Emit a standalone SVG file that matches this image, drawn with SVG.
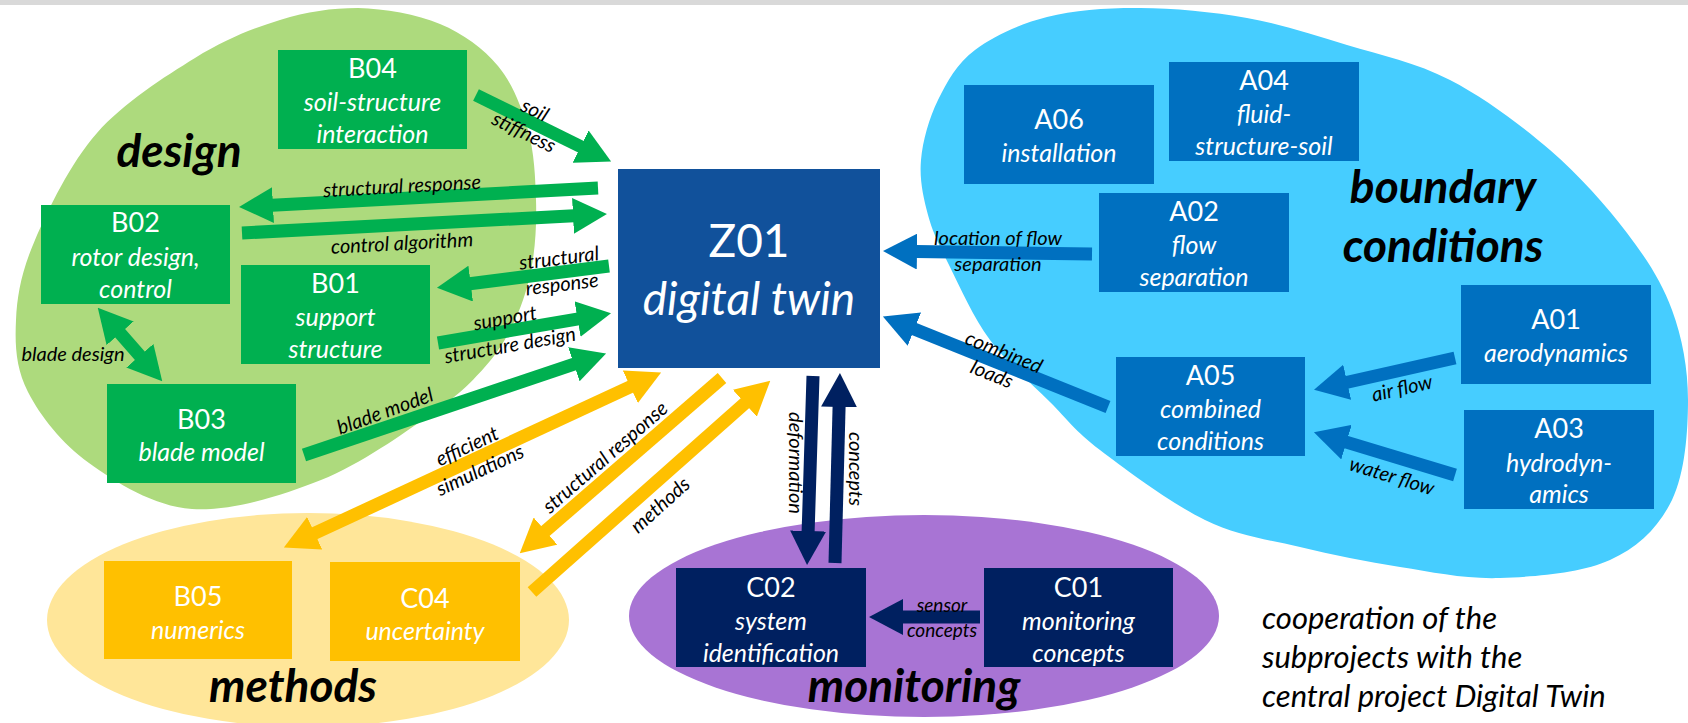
<svg xmlns="http://www.w3.org/2000/svg" width="1688" height="723" viewBox="0 0 1688 723">
<style>
text { font-family: Lato, "Open Sans", "Liberation Sans", sans-serif; }
.bt { fill: #ffffff; text-anchor: middle; font-size: 27px; }
.bs { fill: #ffffff; text-anchor: middle; font-size: 25px; font-style: italic; }
.lbl { fill: #000000; text-anchor: middle; font-size: 20px; font-style: italic; }
.grp { fill: #000000; text-anchor: middle; font-size: 46px; font-style: italic; font-weight: bold; }
.cap { fill: #000000; font-size: 31px; font-style: italic; }
.cg { stroke: #00B050; stroke-width: 13; fill: none; }
.cy { stroke: #FFC000; stroke-width: 13; fill: none; }
.cn { stroke: #002060; stroke-width: 13; fill: none; }
.cb { stroke: #0070C0; stroke-width: 13; fill: none; }
.ng { fill: #00B050; }
.ny { fill: #FFC000; }
.nn { fill: #002060; }
.nb { fill: #0070C0; }
</style>
<defs>
<marker id="hg" markerUnits="userSpaceOnUse" viewBox="0 -18 34 36" markerWidth="34" markerHeight="36" refX="1" refY="0" orient="auto-start-reverse"><path d="M0,-18 L34,0 L0,18 Z" fill="#00B050"/></marker>
<marker id="hy" markerUnits="userSpaceOnUse" viewBox="0 -18 34 36" markerWidth="34" markerHeight="36" refX="1" refY="0" orient="auto-start-reverse"><path d="M0,-18 L34,0 L0,18 Z" fill="#FFC000"/></marker>
<marker id="hn" markerUnits="userSpaceOnUse" viewBox="0 -18 34 36" markerWidth="34" markerHeight="36" refX="1" refY="0" orient="auto-start-reverse"><path d="M0,-18 L34,0 L0,18 Z" fill="#002060"/></marker>
<marker id="hb" markerUnits="userSpaceOnUse" viewBox="0 -18 34 36" markerWidth="34" markerHeight="36" refX="1" refY="0" orient="auto-start-reverse"><path d="M0,-18 L34,0 L0,18 Z" fill="#0070C0"/></marker>
</defs>
<rect x="0" y="0" width="1688" height="723" fill="#ffffff"/>
<rect x="0" y="0" width="1688" height="5" fill="#D9D9D9"/>

<g id="regions">
<path id="region-design" fill="#ADDA7D" d="M358,8 C384.7,8.7 416.7,14.3 440,24 C463.3,33.7 483.3,48.3 498,66 C512.7,83.7 521.7,107.7 528,130 C534.3,152.3 535.3,177.5 536,200 C536.7,222.5 535.5,245 532,265 C528.5,285 523,302.8 515,320 C507,337.2 498.2,352.2 484,368 C469.8,383.8 457.2,396.3 430,415 C402.8,433.7 360.7,464.3 321,480 C281.3,495.7 230.7,511.8 192,509 C153.3,506.2 116.3,482.5 89,463 C61.7,443.5 40.2,415.8 28,392 C15.8,368.2 14.8,345.3 16,320 C17.2,294.7 21.5,271.2 35,240 C48.5,208.8 70.3,163.3 97,133 C123.7,102.7 164.5,76.8 195,58 C225.5,39.2 252.8,28.3 280,20 C307.2,11.7 331.3,8 358,8 Z"/>
<path id="region-boundary" fill="#46CDFF" d="M1140,8 C1173.3,8.2 1212.5,11.8 1247,18 C1281.5,24.2 1313.2,34.7 1347,45 C1380.8,55.3 1416.2,62.5 1450,80 C1483.8,97.5 1520.5,124.5 1550,150 C1579.5,175.5 1606.7,206.3 1627,233 C1647.3,259.7 1661.8,282.2 1672,310 C1682.2,337.8 1688,368.3 1688,400 C1688,431.7 1685,473.3 1672,500 C1659,526.7 1638.7,547 1610,560 C1581.3,573 1535,576.8 1500,578 C1465,579.2 1433.3,572.2 1400,567 C1366.7,561.8 1332.5,554.8 1300,547 C1267.5,539.2 1238.3,536.2 1205,520 C1171.7,503.8 1125.8,469.7 1100,450 C1074.2,430.3 1068.3,420.3 1050,402 C1031.7,383.7 1006.7,362.5 990,340 C973.3,317.5 960.3,287.8 950,267 C939.7,246.2 932.8,232.8 928,215 C923.2,197.2 919.3,179.2 921,160 C922.7,140.8 929,118.3 938,100 C947,81.7 956.8,63.8 975,50 C993.2,36.2 1019.5,24 1047,17 C1074.5,10 1106.7,7.8 1140,8 Z"/>
<ellipse id="region-methods" cx="308" cy="620" rx="261" ry="107" fill="#FFE699"/>
<ellipse id="region-monitoring" cx="924" cy="616" rx="295" ry="101" fill="#A874D4"/>
<text class="grp" x="179" y="167">design</text>
<text class="grp" x="1443" y="203">boundary</text>
<text class="grp" x="1443" y="262">conditions</text>
<text class="grp" x="293" y="702">methods</text>
<text class="grp" x="914" y="702">monitoring</text>
</g>

<g id="connectors">
<line class="cg" x1="476" y1="95" x2="581.5" y2="147" marker-end="url(#hg)"/>
<line class="cg" x1="598" y1="188" x2="272" y2="205.2" marker-end="url(#hg)"/>
<line class="cg" x1="242" y1="233" x2="574" y2="215.8" marker-end="url(#hg)"/>
<line class="cg" x1="609" y1="266" x2="469.7" y2="283.7" marker-end="url(#hg)"/>
<line class="cg" x1="438" y1="343" x2="578.5" y2="318.8" marker-end="url(#hg)"/>
<line class="cg" x1="304" y1="455" x2="574.8" y2="363.9" marker-end="url(#hg)"/>
<line class="cg" x1="119.5" y1="332.5" x2="140.5" y2="356.5" marker-start="url(#hg)" marker-end="url(#hg)"/>
<line class="cy" x1="313.8" y1="533.7" x2="631.2" y2="386.3" marker-start="url(#hy)" marker-end="url(#hy)"/>
<line class="cy" x1="722" y1="378" x2="544.7" y2="531.7" marker-end="url(#hy)"/>
<line class="cy" x1="532" y1="592" x2="745.6" y2="402.6" marker-end="url(#hy)"/>
<line class="cn" x1="813" y1="376" x2="808.1" y2="532" marker-end="url(#hn)"/>
<line class="cn" x1="835" y1="563" x2="839.1" y2="406" marker-end="url(#hn)"/>
<line class="cn" x1="980" y1="617" x2="902" y2="617" marker-end="url(#hn)"/>
<line class="cb" x1="1092" y1="254" x2="916" y2="251.5" marker-end="url(#hb)"/>
<line class="cb" x1="1108" y1="407" x2="913.5" y2="328.7" marker-end="url(#hb)"/>
<line class="cb" x1="1455" y1="358" x2="1346.2" y2="382.5" marker-end="url(#hb)"/>
<line class="cb" x1="1455" y1="475" x2="1345.5" y2="441.9" marker-end="url(#hb)"/>
<g id="connector-labels">
<text class="lbl" transform="translate(535,110) rotate(26)" y="7">soil</text>
<text class="lbl" transform="translate(524,132) rotate(26)" y="7">stiffness</text>
<text class="lbl" transform="translate(402,186) rotate(-3)" y="7">structural response</text>
<text class="lbl" transform="translate(402,243) rotate(-3)" y="7">control algorithm</text>
<text class="lbl" transform="translate(559,258) rotate(-7)" y="7">structural</text>
<text class="lbl" transform="translate(562,284) rotate(-7)" y="7">response</text>
<text class="lbl" transform="translate(505,318) rotate(-10)" y="7">support</text>
<text class="lbl" transform="translate(510,345) rotate(-10)" y="7">structure design</text>
<text class="lbl" transform="translate(385,411) rotate(-20)" y="7">blade model</text>
<text class="lbl" transform="translate(73,354)" y="7">blade design</text>
<text class="lbl" transform="translate(467,446) rotate(-25)" y="7">efficient</text>
<text class="lbl" transform="translate(480,470) rotate(-25)" y="7">simulations</text>
<text class="lbl" transform="translate(605,457) rotate(-41)" y="7">structural response</text>
<text class="lbl" transform="translate(660,505) rotate(-42)" y="7">methods</text>
<text class="lbl" transform="translate(796,463) rotate(90)" y="7">deformation</text>
<text class="lbl" transform="translate(856,469) rotate(90)" y="7">concepts</text>
<text class="lbl" transform="translate(998,238)" y="7">location of flow</text>
<text class="lbl" transform="translate(998,264)" y="7">separation</text>
<text class="lbl" transform="translate(1004,352) rotate(22)" y="7">combined</text>
<text class="lbl" transform="translate(992,374) rotate(22)" y="7">loads</text>
<text class="lbl" transform="translate(1402,388) rotate(-13)" y="7">air flow</text>
<text class="lbl" transform="translate(1392,476) rotate(17)" y="7">water flow</text>
<text class="lbl" style="font-size:19px" transform="translate(942,605)" y="7">sensor</text>
<text class="lbl" style="font-size:19px" transform="translate(942,630)" y="7">concepts</text>
</g>
</g>

<g id="Z01">
<rect x="618" y="169" width="262" height="199" fill="#11519B"/>
<text class="bt" x="749" y="257" style="font-size:46px">Z01</text>
<text class="bs" x="749" y="315" style="font-size:46px">digital twin</text>
</g>
<g id="B04">
<rect class="ng" x="278" y="50" width="189" height="99"/>
<text class="bt" x="372.5" y="78">B04</text>
<text class="bs" x="372.5" y="111">soil-structure</text>
<text class="bs" x="372.5" y="143">interaction</text>
</g>
<g id="B02">
<rect class="ng" x="41" y="205" width="189" height="99"/>
<text class="bt" x="135.5" y="232">B02</text>
<text class="bs" x="135.5" y="266">rotor design,</text>
<text class="bs" x="135.5" y="298">control</text>
</g>
<g id="B01">
<rect class="ng" x="241" y="265" width="189" height="99"/>
<text class="bt" x="335.5" y="293">B01</text>
<text class="bs" x="335.5" y="326">support</text>
<text class="bs" x="335.5" y="358">structure</text>
</g>
<g id="B03">
<rect class="ng" x="107" y="384" width="189" height="99"/>
<text class="bt" x="201.5" y="429">B03</text>
<text class="bs" x="201.5" y="461">blade model</text>
</g>
<g id="B05">
<rect class="ny" x="104" y="561" width="188" height="98"/>
<text class="bt" x="198" y="606">B05</text>
<text class="bs" x="198" y="639">numerics</text>
</g>
<g id="C04">
<rect class="ny" x="330" y="562" width="190" height="99"/>
<text class="bt" x="425" y="608">C04</text>
<text class="bs" x="425" y="640">uncertainty</text>
</g>
<g id="C02">
<rect class="nn" x="676" y="568" width="190" height="99"/>
<text class="bt" x="771" y="597">C02</text>
<text class="bs" x="771" y="630">system</text>
<text class="bs" x="771" y="662">identification</text>
</g>
<g id="C01">
<rect class="nn" x="984" y="568" width="189" height="99"/>
<text class="bt" x="1078.5" y="597">C01</text>
<text class="bs" x="1078.5" y="630">monitoring</text>
<text class="bs" x="1078.5" y="662">concepts</text>
</g>
<g id="A06">
<rect class="nb" x="964" y="85" width="190" height="99"/>
<text class="bt" x="1059" y="129">A06</text>
<text class="bs" x="1059" y="162">installation</text>
</g>
<g id="A04">
<rect class="nb" x="1169" y="62" width="190" height="99"/>
<text class="bt" x="1264" y="90">A04</text>
<text class="bs" x="1264" y="123">fluid-</text>
<text class="bs" x="1264" y="155">structure-soil</text>
</g>
<g id="A02">
<rect class="nb" x="1099" y="193" width="190" height="99"/>
<text class="bt" x="1194" y="221">A02</text>
<text class="bs" x="1194" y="254">flow</text>
<text class="bs" x="1194" y="286">separation</text>
</g>
<g id="A01">
<rect class="nb" x="1461" y="285" width="190" height="99"/>
<text class="bt" x="1556" y="329">A01</text>
<text class="bs" x="1556" y="362">aerodynamics</text>
</g>
<g id="A03">
<rect class="nb" x="1464" y="410" width="190" height="99"/>
<text class="bt" x="1559" y="438">A03</text>
<text class="bs" x="1559" y="472">hydrodyn-</text>
<text class="bs" x="1559" y="503">amics</text>
</g>
<g id="A05">
<rect class="nb" x="1116" y="357" width="189" height="99"/>
<text class="bt" x="1210.5" y="385">A05</text>
<text class="bs" x="1210.5" y="418">combined</text>
<text class="bs" x="1210.5" y="450">conditions</text>
</g>

<g id="caption">
<text class="cap" x="1262" y="629">cooperation of the</text>
<text class="cap" x="1262" y="668">subprojects with the</text>
<text class="cap" x="1262" y="707">central project Digital Twin</text>
</g>
</svg>
